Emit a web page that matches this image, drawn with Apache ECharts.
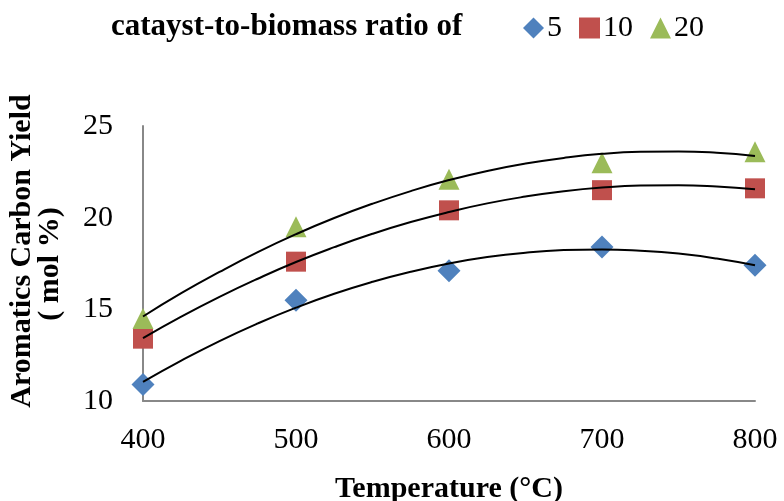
<!DOCTYPE html>
<html>
<head>
<meta charset="utf-8">
<script src="https://cdn.jsdelivr.net/npm/echarts@6/dist/echarts.min.js"></script>
<style>
  html, body { margin: 0; padding: 0; background: #fff; }
  #chart { width: 784px; height: 501px; }
</style>
</head>
<body>
<div id="chart"></div>
<script>
// 温度 (°C)
const temps = [400, 500, 600, 700, 800]
// 催化剂/生物质比例下的芳烃碳收率 (mol %)
const ratio5 = [10.9, 15.5, 17.1, 18.4, 17.4]
const ratio10 = [13.4, 17.6, 20.4, 21.5, 21.6]
const ratio20 = [14.5, 19.5, 22.1, 23.0, 23.6]

// 趋势线 (从图中读取, 每 25°C 一个点)
const trendTemps = [400, 425, 450, 475, 500, 525, 550, 575, 600, 625, 650, 675, 700, 725, 750, 775, 800]
const trend5 = [11.04, 12.20, 13.27, 14.23, 15.09, 15.85, 16.50, 17.05, 17.50, 17.85, 18.09, 18.23, 18.27, 18.20, 18.04, 17.77, 17.40]
const trend10 = [13.43, 14.60, 15.68, 16.67, 17.58, 18.39, 19.12, 19.76, 20.31, 20.78, 21.15, 21.44, 21.64, 21.75, 21.77, 21.70, 21.55]
const trend20 = [14.61, 15.88, 17.04, 18.12, 19.10, 19.98, 20.76, 21.45, 22.05, 22.55, 22.95, 23.26, 23.48, 23.59, 23.61, 23.54, 23.37]

const legendNames = ['5', '10', '20']
const xTicks = [400, 500, 600, 700, 800]
const yTicks = [10, 15, 20, 25]

const FONT = '"Liberation Serif", "Times New Roman", serif'

const pair = (xs, ys) => xs.map((x, i) => [x, ys[i]])

const chart = echarts.init(document.getElementById('chart'))

const scatter = (name, data, symbol, size, color) => ({
  name: name,
  type: 'scatter',
  data: pair(temps, data),
  symbol: symbol,
  symbolSize: size,
  itemStyle: { color: color, opacity: 1 },
  z: 2
})

const trend = (data) => ({
  type: 'line',
  data: pair(trendTemps, data),
  smooth: true,
  showSymbol: false,
  symbol: 'none',
  lineStyle: { color: '#000', width: 2 },
  silent: true,
  z: 3
})

const option = {
  animation: false,
  textStyle: { fontFamily: FONT },
  title: {
    text: 'catayst-to-biomass ratio of',
    left: 106,
    top: 6,
    textStyle: { fontFamily: FONT, fontSize: 31, fontWeight: 'bold', color: '#000' }
  },
  legend: {
    data: legendNames,
    left: 518,
    top: 8,
    itemWidth: 21,
    itemHeight: 21,
    itemGap: 17,
    textStyle: { fontFamily: FONT, fontSize: 30, color: '#000', padding: [0, 0, 0, -2] }
  },
  grid: { left: 143, right: 29, top: 126, bottom: 100, containLabel: false, outerBoundsMode: 'none' },
  xAxis: {
    type: 'value',
    min: 400,
    max: 800,
    interval: 100,
    name: 'Temperature (°C)',
    nameLocation: 'middle',
    nameGap: 73,
    nameTextStyle: { fontFamily: FONT, fontSize: 30, fontWeight: 'bold', color: '#000' },
    axisLine: { show: true, lineStyle: { color: '#888', width: 2 } },
    axisTick: { show: false },
    splitLine: { show: false },
    axisLabel: {
      fontFamily: FONT, fontSize: 30, color: '#000', margin: 24,
      formatter: v => (xTicks.includes(v) ? String(v) : '')
    }
  },
  yAxis: {
    type: 'value',
    min: 10,
    max: 25,
    interval: 5,
    axisLine: { show: true, lineStyle: { color: '#888', width: 2 } },
    axisTick: { show: false },
    splitLine: { show: false },
    axisLabel: {
      fontFamily: FONT, fontSize: 30, color: '#000', margin: 30,
      formatter: v => (yTicks.includes(v) ? String(v) : '')
    }
  },
  graphic: [
    {
      type: 'text',
      x: 22,
      y: 251,
      rotation: Math.PI / 2,
      style: {
        text: 'Aromatics Carbon Yield',
        font: 'bold 30px ' + FONT,
        fill: '#000',
        textAlign: 'center',
        textVerticalAlign: 'middle'
      }
    },
    {
      type: 'text',
      x: 50,
      y: 264,
      rotation: Math.PI / 2,
      style: {
        text: '( mol %)',
        font: 'bold 30px ' + FONT,
        fill: '#000',
        textAlign: 'center',
        textVerticalAlign: 'middle'
      }
    }
  ],
  series: [
    scatter('5', ratio5, 'diamond', 23, '#4F81BD'),
    scatter('10', ratio10, 'rect', 20, '#C0504D'),
    scatter('20', ratio20, 'triangle', 21, '#9BBB59'),
    trend(trend5),
    trend(trend10),
    trend(trend20)
  ]
}

chart.setOption(option)
</script>
</body>
</html>
